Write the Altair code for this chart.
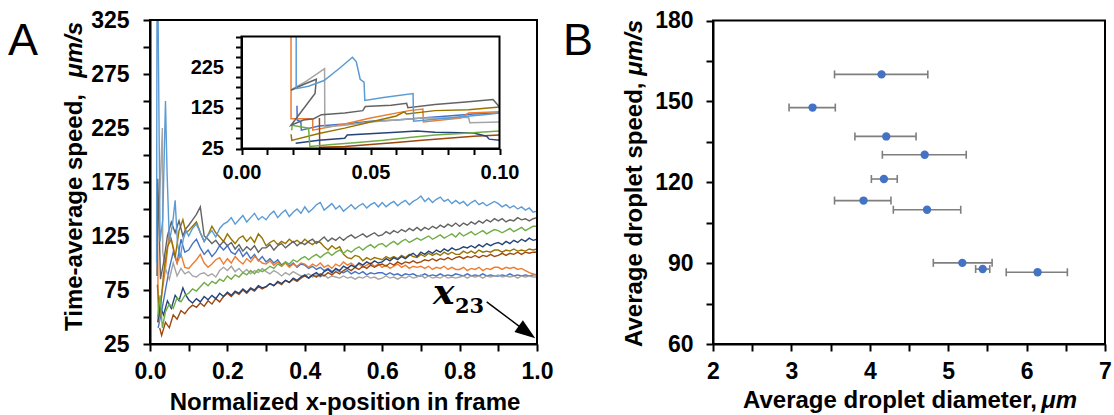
import altair as alt
import pandas as pd

FONT = "Liberation Sans"

# ---------------- Panel A: main plot data ----------------
grid_x = [0.10, 0.11, 0.12, 0.13, 0.14, 0.15, 0.16, 0.17, 0.18, 0.19,
          0.20, 0.21, 0.22, 0.23, 0.24, 0.25, 0.26, 0.27, 0.28, 0.29,
          0.30, 0.31, 0.32, 0.33, 0.34, 0.35, 0.36, 0.37, 0.38, 0.39,
          0.40, 0.41, 0.42, 0.43, 0.44, 0.45, 0.46, 0.47, 0.48, 0.49,
          0.50, 0.51, 0.52, 0.53, 0.54, 0.55, 0.56, 0.57, 0.58, 0.59,
          0.60, 0.61, 0.62, 0.63, 0.64, 0.65, 0.66, 0.67, 0.68, 0.69,
          0.70, 0.71, 0.72, 0.73, 0.74, 0.75, 0.76, 0.77, 0.78, 0.79,
          0.80, 0.81, 0.82, 0.83, 0.84, 0.85, 0.86, 0.87, 0.88, 0.89,
          0.90, 0.91, 0.92, 0.93, 0.94, 0.95, 0.96, 0.97, 0.98, 0.99,
          1.00]

lb_ex = [0.017, 0.018, 0.021, 0.026, 0.033, 0.040, 0.044, 0.050, 0.058, 0.065, 0.071, 0.078, 0.086, 0.093]
lb_ey = [100, 330, 330, 120, 140, 250, 185, 120, 135, 158, 118, 105, 122, 130]
lb_y = [125, 132, 136, 128, 120, 126, 130, 124, 132, 136,
        138, 142, 136, 140, 144, 138, 142, 146, 140, 143,
        140, 145, 148, 142, 146, 149, 143, 147, 150, 146,
        152, 147, 150, 154, 156, 149, 152, 155, 150, 153,
        148, 151, 154, 150, 153, 155, 151, 154, 156, 152,
        156, 152, 155, 157, 153, 156, 158, 154, 157, 159,
        162, 157, 160, 156, 159, 161, 157, 159, 155, 158,
        155, 157, 153, 156, 158, 154, 156, 153, 155, 157,
        155, 152, 154, 151, 153, 150, 152, 149, 151, 147,
        148]

dg_ex = [0.018, 0.020, 0.024, 0.027, 0.035, 0.045, 0.055, 0.065, 0.075, 0.085, 0.093]
dg_ey = [88, 178, 130, 85, 100, 125, 138, 128, 139, 125, 132]
dg_y = [135, 140, 145, 152, 125, 122, 118, 121, 116, 120,
        116, 119, 113, 117, 111, 115, 112, 116, 110, 114,
        114, 117, 112, 116, 118, 114, 117, 120, 116, 119,
        117, 120, 122, 118, 121, 124, 120, 123, 121, 124,
        121, 124, 126, 123, 125, 127, 124, 126, 128, 125,
        126, 129, 127, 130, 128, 131, 129, 132, 130, 133,
        130, 133, 131, 134, 132, 135, 133, 136, 134, 137,
        134, 137, 135, 138, 136, 139, 137, 140, 138, 141,
        139, 141, 138, 140, 139, 142, 140, 141, 139, 141,
        142]

gr_ex = [0.020, 0.026, 0.032, 0.040, 0.050, 0.060, 0.070, 0.080, 0.090]
gr_ey = [50, 70, 40, 55, 62, 58, 68, 64, 70]
gr_y = [72, 76, 74, 78, 82, 79, 83, 81, 85, 83,
        88, 85, 89, 87, 91, 89, 93, 90, 94, 92,
        94, 97, 95, 99, 97, 101, 99, 103, 101, 104,
        106, 103, 106, 108, 105, 108, 110, 107, 110, 112,
        109, 112, 110, 113, 115, 112, 115, 117, 114, 117,
        118, 115, 118, 120, 117, 120, 122, 119, 121, 123,
        121, 123, 125, 122, 124, 126, 123, 125, 127, 124,
        128, 125, 127, 129, 126, 128, 130, 127, 129, 131,
        130, 128, 130, 132, 129, 131, 133, 130, 132, 134,
        134]

db_ex = [0.020, 0.025, 0.035, 0.045, 0.055, 0.065, 0.075, 0.085, 0.093]
db_ey = [45, 60, 52, 65, 58, 70, 65, 77, 70]
db_y = [66, 63, 67, 64, 69, 66, 70, 67, 72, 69,
        73, 70, 74, 72, 76, 73, 77, 75, 79, 77,
        78, 81, 79, 83, 81, 84, 82, 86, 84, 87,
        89, 86, 89, 91, 88, 92, 94, 91, 95, 93,
        97, 95, 98, 96, 100, 98, 101, 99, 102, 100,
        101, 104, 102, 105, 103, 106, 104, 107, 109, 106,
        110, 108, 111, 109, 112, 110, 113, 111, 114, 112,
        113, 115, 114, 116, 114, 117, 115, 118, 116, 118,
        119, 117, 120, 118, 121, 119, 122, 120, 123, 121,
        122]

gd_ex = [0.019, 0.025, 0.035, 0.045, 0.055, 0.065, 0.075, 0.085, 0.093]
gd_ey = [80, 50, 90, 115, 122, 105, 130, 140, 128]
gd_y = [130, 134, 138, 128, 120, 126, 134, 128, 124, 120,
        127, 122, 118, 123, 125, 120, 124, 119, 127, 123,
        116, 119, 121, 117, 120, 118, 122, 119, 121, 118,
        122, 119, 117, 120, 119, 115, 112, 116, 113, 115,
        108, 105, 104, 107, 106, 102, 105, 103, 105, 104,
        103, 106, 104, 106, 104, 107, 105, 108, 106, 105,
        108, 106, 109, 107, 109, 107, 110, 108, 110, 108,
        108, 111, 109, 111, 109, 112, 110, 111, 110, 112,
        112, 110, 112, 111, 113, 111, 112, 111, 113, 112,
        113]

br_ex = [0.025, 0.030, 0.040, 0.050, 0.060, 0.070, 0.080, 0.090]
br_ey = [40, 33, 45, 40, 52, 48, 56, 53]
br_y = [58, 61, 59, 63, 60, 65, 62, 67, 64, 69,
        72, 69, 73, 71, 75, 72, 76, 74, 78, 76,
        78, 81, 79, 82, 80, 84, 82, 85, 83, 86,
        88, 86, 89, 87, 90, 88, 91, 89, 92, 90,
        93, 95, 93, 96, 94, 97, 95, 98, 96, 98,
        99, 97, 100, 98, 101, 99, 101, 100, 102, 100,
        101, 103, 102, 104, 102, 104, 103, 105, 103, 105,
        106, 104, 106, 105, 107, 105, 107, 106, 108, 106,
        107, 109, 107, 109, 108, 110, 108, 110, 109, 110,
        110]

or_ex = [0.018, 0.019, 0.021, 0.023, 0.030, 0.040, 0.050, 0.060, 0.070, 0.080, 0.090]
or_ey = [100, 165, 60, 45, 70, 95, 128, 115, 100, 108, 96]
or_y = [95, 99, 103, 108, 100, 96, 99, 103, 105, 99,
        104, 100, 106, 102, 99, 104, 101, 106, 103, 100,
        99, 102, 98, 101, 97, 100, 96, 99, 97, 100,
        99, 96, 99, 97, 100, 96, 98, 95, 99, 97,
        101, 98, 100, 97, 99, 96, 98, 100, 97, 99,
        96, 98, 95, 97, 99, 96, 98, 95, 97, 96,
        97, 95, 97, 94, 96, 95, 97, 94, 96, 94,
        94, 96, 93, 95, 94, 96, 93, 95, 94, 96,
        96, 94, 96, 95, 96, 94, 95, 93, 91, 90,
        89]

lg_ex = [0.019, 0.026, 0.032, 0.033, 0.040, 0.050, 0.060, 0.070, 0.080, 0.090]
lg_ey = [120, 170, 225, 110, 95, 85, 100, 88, 95, 90]
lg_y = [92, 88, 87, 90, 91, 88, 90, 87, 93, 96,
        93, 97, 92, 95, 91, 94, 90, 93, 91, 95,
        92, 90, 93, 91, 88, 91, 89, 92, 90, 88,
        88, 90, 87, 89, 87, 89, 86, 88, 87, 86,
        88, 86, 87, 85, 87, 86, 88, 86, 87, 85,
        86, 88, 86, 87, 85, 87, 86, 88, 86, 87,
        89, 86, 88, 86, 87, 86, 88, 86, 87, 86,
        87, 88, 86, 88, 87, 88, 86, 88, 87, 88,
        89, 87, 88, 87, 88, 86, 88, 87, 88, 87,
        87]

bl_ex = [0.021, 0.030, 0.040, 0.050, 0.060, 0.070, 0.080, 0.090]
bl_ey = [40, 55, 75, 95, 110, 100, 122, 110]
bl_y = [112, 118, 122, 114, 108, 112, 106, 110, 116, 112,
        116, 110, 108, 113, 106, 110, 104, 108, 102, 106,
        101, 104, 100, 103, 98, 101, 97, 100, 96, 99,
        98, 95, 97, 94, 96, 93, 95, 92, 94, 92,
        91, 93, 90, 92, 90, 92, 89, 91, 90, 91,
        91, 89, 91, 89, 90, 88, 90, 89, 90, 88,
        88, 90, 88, 89, 88, 90, 88, 89, 88, 90,
        89, 88, 90, 88, 89, 88, 90, 88, 89, 88,
        88, 89, 88, 90, 88, 89, 88, 89, 88, 89,
        89]

# ---------------- Panel A: inset data (ordered sequences) ----------------
lb_ix = [0.0212, 0.0212, 0.026, 0.032, 0.038, 0.043, 0.0445, 0.046, 0.0475, 0.0478, 0.055, 0.0665, 0.0667, 0.075, 0.085, 0.094, 0.100]
lb_iy = [300, 172, 178, 192, 222, 249, 238, 195, 188, 143, 150, 160, 92, 97, 103, 108, 112]
dg_ix = [0.0192, 0.024, 0.029, 0.0285, 0.0192, 0.024, 0.028, 0.031, 0.040, 0.047, 0.048, 0.058, 0.064, 0.0645, 0.075, 0.088, 0.0975, 0.100]
dg_iy = [168, 182, 195, 160, 82, 95, 98, 108, 112, 118, 128, 131, 136, 125, 133, 140, 145, 127]
gd_ix = [0.0192, 0.0195, 0.030, 0.040, 0.050, 0.060, 0.063, 0.064, 0.075, 0.088, 0.100]
gd_iy = [60, 45, 62, 75, 90, 105, 115, 110, 118, 120, 127]
or_ix = [0.0192, 0.0192, 0.0276, 0.0276, 0.040, 0.050, 0.065, 0.0703, 0.0705, 0.085, 0.088, 0.100]
or_iy = [300, 98, 98, 70, 85, 100, 118, 122, 90, 100, 112, 115]
lg_ix = [0.0190, 0.025, 0.0322, 0.0323, 0.040, 0.050, 0.060, 0.070, 0.080, 0.088, 0.0885, 0.100]
lg_iy = [168, 190, 221, 78, 82, 90, 95, 100, 100, 102, 88, 90]
gr_ix = [0.0195, 0.0196, 0.026, 0.0265, 0.035, 0.045, 0.055, 0.065, 0.075, 0.085, 0.100]
gr_iy = [70, 82, 75, 30, 35, 40, 45, 52, 58, 62, 68]
db_ix = [0.021, 0.030, 0.040, 0.041, 0.060, 0.068, 0.075, 0.090, 0.095, 0.096, 0.100]
db_iy = [38, 45, 50, 58, 65, 68, 65, 63, 55, 48, 45]
br_ix = [0.0302, 0.0303, 0.040, 0.050, 0.060, 0.070, 0.080, 0.090, 0.100]
br_iy = [100, 28, 30, 35, 40, 45, 50, 55, 58]
bl_ix = [0.0215, 0.0216, 0.023, 0.0232, 0.030, 0.040, 0.050, 0.060, 0.070, 0.080, 0.090, 0.100]
bl_iy = [130, 95, 90, 70, 80, 85, 92, 95, 100, 105, 110, 112]

series_names = ["bl", "or", "lg", "gd", "br", "db", "gr", "dg", "lb"]
series_colors = ["#4472C4", "#ED7D31", "#A5A5A5", "#997300", "#9E480E", "#264478", "#70AD47", "#636363", "#5B9BD5"]

main_parts = {
    "lb": (lb_ex, lb_ey, lb_y), "dg": (dg_ex, dg_ey, dg_y), "gr": (gr_ex, gr_ey, gr_y),
    "db": (db_ex, db_ey, db_y), "gd": (gd_ex, gd_ey, gd_y), "br": (br_ex, br_ey, br_y),
    "or": (or_ex, or_ey, or_y), "lg": (lg_ex, lg_ey, lg_y), "bl": (bl_ex, bl_ey, bl_y),
}
inset_parts = {
    "lb": (lb_ix, lb_iy), "dg": (dg_ix, dg_iy), "gr": (gr_ix, gr_iy), "db": (db_ix, db_iy),
    "gd": (gd_ix, gd_iy), "br": (br_ix, br_iy), "or": (or_ix, or_iy), "lg": (lg_ix, lg_iy),
    "bl": (bl_ix, bl_iy),
}

# ---------------- Panel B data ----------------
B_diam = [4.15, 3.27, 4.21, 4.70, 4.18, 3.92, 4.73, 5.18, 5.44, 6.14]
B_speed = [160.0, 147.7, 137.0, 130.2, 121.2, 113.2, 109.8, 90.1, 87.8, 86.6]
B_lo = [3.55, 2.97, 3.81, 4.16, 4.02, 3.55, 4.30, 4.81, 5.35, 5.74]
B_hi = [4.74, 3.56, 4.59, 5.23, 4.35, 4.27, 5.16, 5.56, 5.53, 6.52]

# axis tick values and annotation anchors
A_xticks = [0.0, 0.1, 0.2, 0.3, 0.4, 0.5, 0.6, 0.7, 0.8, 0.9, 1.0]
A_yticks = [25, 50, 75, 100, 125, 150, 175, 200, 225, 250, 275, 300, 325]
I_xticks = [0.0, 0.01, 0.02, 0.03, 0.04, 0.05, 0.06, 0.07, 0.08, 0.09, 0.1]
I_yticks = [25, 50, 75, 100, 125, 150, 175, 200, 225, 250, 275, 300]
B_xticks = [2, 2.5, 3, 3.5, 4, 4.5, 5, 5.5, 6, 6.5, 7]
B_yticks = [60, 75, 90, 105, 120, 135, 150, 165, 180]
arrow_x = [0.87, 0.974]
arrow_y = [64, 36]

# ---------------- build tables ----------------
rows = []
for name, col in zip(series_names, series_colors):
    ex, ey, gy = main_parts[name]
    for i, (x, y) in enumerate(zip(ex + grid_x, ey + gy)):
        rows.append({"s": name, "c": col, "x": x, "y": y, "i": i})
main_df = pd.DataFrame(rows)

rows = []
for name, col in zip(series_names, series_colors):
    ix, iy = inset_parts[name]
    for i, (x, y) in enumerate(zip(ix, iy)):
        rows.append({"s": name, "c": col, "x": x, "y": y, "i": i})
inset_df = pd.DataFrame(rows)

b_df = pd.DataFrame({"x": B_diam, "y": B_speed, "lo": B_lo, "hi": B_hi})

# ---------------- scales ----------------
def sc(domain, rng, clamp=False):
    return alt.Scale(domain=domain, range=rng, nice=False, zero=False, clamp=clamp)

AX = lambda: sc([0, 1], [150, 537])
AY = lambda: sc([25, 325], [344, 20], clamp=True)
IX = lambda: sc([0, 0.1], [241.5, 499.5], clamp=True)
IY = lambda: sc([25, 300], [148.5, 36.5], clamp=True)
BX = lambda: sc([2, 7], [713, 1105])
BY = lambda: sc([60, 180], [344, 20.5])

H = 415


def axis(orient, offset, values, expr, size=23, pad=9, tick=7):
    return alt.Axis(orient=orient, offset=offset, values=values, labelExpr=expr, title=None,
                    grid=False, domainColor="black", domainWidth=2, tickColor="black",
                    tickWidth=2, tickSize=tick, labelFont=FONT, labelFontSize=size,
                    labelFontWeight="bold", labelColor="black", labelPadding=pad,
                    labelFlush=False, labelOverlap=False, zindex=1)


# ---------------- layers ----------------
main_lines = alt.Chart(main_df).mark_line(strokeWidth=1.4).encode(
    x=alt.X("x:Q", scale=AX(), axis=axis("bottom", -(H - 344), A_xticks,
            "round(datum.value*10) % 2 == 0 ? format(datum.value, '.1f') : ''")),
    y=alt.Y("y:Q", scale=AY(), axis=axis("left", -150, A_yticks,
            "datum.value % 50 == 25 ? format(datum.value, 'd') : ''", pad=14)),
    color=alt.Color("c:N", scale=None),
    detail="s:N",
    order="i:Q",
)

box_df = lambda x0, x1, y0, y1: pd.DataFrame({"x0": [x0], "x1": [x1], "y0": [y0], "y1": [y1]})

main_box = alt.Chart(box_df(0, 1, 25, 325)).mark_rect(fillOpacity=0, stroke="black", strokeWidth=2).encode(
    x=alt.X("x0:Q", scale=AX(), axis=None), x2="x1:Q",
    y=alt.Y("y0:Q", scale=AY(), axis=None), y2="y1:Q")

arrow_df = pd.DataFrame({"x0": [arrow_x[0]], "x1": [arrow_x[1]], "y0": [arrow_y[0]], "y1": [arrow_y[1]]})
arrow_line = alt.Chart(arrow_df).mark_rule(color="black", strokeWidth=1.5).encode(
    x=alt.X("x0:Q", scale=AX(), axis=None), x2="x1:Q",
    y=alt.Y("y0:Q", scale=AY(), axis=None), y2="y1:Q")
arrow_head = alt.Chart(arrow_df).mark_point(
    shape="M1,0L-1,-0.7L-1,0.7Z", size=420, filled=True, color="black", opacity=1, angle=36
).encode(x=alt.X("x1:Q", scale=AX(), axis=None), y=alt.Y("y1:Q", scale=AY(), axis=None))

inset_bg = alt.Chart(box_df(0, 0.1, 25, 300)).mark_rect(fill="white", strokeWidth=0).encode(
    x=alt.X("x0:Q", scale=IX(), axis=axis("bottom", -(H - 148.5), I_xticks,
            "round(datum.value*100) % 5 == 0 ? format(datum.value, '.2f') : ''", size=20, pad=8, tick=6)),
    x2="x1:Q",
    y=alt.Y("y0:Q", scale=IY(), axis=axis("left", -241.5, I_yticks,
            "(datum.value - 25) % 100 == 0 ? format(datum.value, 'd') : ''", size=20, pad=12, tick=6)),
    y2="y1:Q")

inset_lines = alt.Chart(inset_df).mark_line(strokeWidth=1.5).encode(
    x=alt.X("x:Q", scale=IX(), axis=None),
    y=alt.Y("y:Q", scale=IY(), axis=None),
    color=alt.Color("c:N", scale=None),
    detail="s:N",
    order="i:Q",
)

inset_box = alt.Chart(box_df(0, 0.1, 25, 300)).mark_rect(fillOpacity=0, stroke="black", strokeWidth=2).encode(
    x=alt.X("x0:Q", scale=IX(), axis=None), x2="x1:Q",
    y=alt.Y("y0:Q", scale=IY(), axis=None), y2="y1:Q")

b_box = alt.Chart(box_df(2, 7, 60, 180)).mark_rect(fillOpacity=0, stroke="black", strokeWidth=2).encode(
    x=alt.X("x0:Q", scale=BX(), axis=axis("bottom", -(H - 344), B_xticks,
            "datum.value % 1 == 0 ? format(datum.value, 'd') : ''")),
    x2="x1:Q",
    y=alt.Y("y0:Q", scale=BY(), axis=axis("left", -713, B_yticks,
            "datum.value % 30 == 0 ? format(datum.value, 'd') : ''", pad=13)),
    y2="y1:Q")

err = alt.Chart(b_df).mark_rule(color="#7f7f7f", strokeWidth=1.6).encode(
    x=alt.X("lo:Q", scale=BX(), axis=None), x2="hi:Q",
    y=alt.Y("y:Q", scale=BY(), axis=None))
cap_lo = alt.Chart(b_df).mark_tick(orient="vertical", size=8, thickness=1.6, color="#7f7f7f", opacity=1).encode(
    x=alt.X("lo:Q", scale=BX(), axis=None), y=alt.Y("y:Q", scale=BY(), axis=None))
cap_hi = alt.Chart(b_df).mark_tick(orient="vertical", size=8, thickness=1.6, color="#7f7f7f", opacity=1).encode(
    x=alt.X("hi:Q", scale=BX(), axis=None), y=alt.Y("y:Q", scale=BY(), axis=None))
pts = alt.Chart(b_df).mark_circle(size=70, color="#4472C4", opacity=1).encode(
    x=alt.X("x:Q", scale=BX(), axis=None), y=alt.Y("y:Q", scale=BY(), axis=None))


def text(txt, x, y, size=24, angle=0, align="left", weight="bold", style="normal",
         font=FONT, baseline="alphabetic"):
    return alt.Chart(pd.DataFrame({"t": [txt]})).mark_text(
        fontSize=size, angle=angle, align=align, fontWeight=weight, fontStyle=style,
        font=font, baseline=baseline, color="black"
    ).encode(text="t:N", x=alt.value(x), y=alt.value(y))


texts = [
    text("A", 8, 55, size=45, weight="normal"),
    text("B", 563, 55, size=45, weight="normal"),
    text("Time-average speed,", 75, 331, angle=270, align="left", baseline="middle"),
    text("\u03bcm/s", 75, 22, angle=270, align="right", baseline="middle", style="italic"),
    text("Average droplet speed,", 635, 347, angle=270, align="left", baseline="middle"),
    text("\u03bcm/s", 635, 20, angle=270, align="right", baseline="middle", style="italic"),
    text("Normalized x-position in frame", 345, 410, align="center"),
    text("Average droplet diameter,", 743, 408, align="left"),
    text("\u03bcm", 1077, 408, align="right", style="italic"),
    text("x", 433, 304, size=36, font="DejaVu Serif", style="italic"),
    text("23", 455, 313, size=21, font="DejaVu Serif"),
]

chart = alt.layer(
    main_lines, main_box, arrow_line, arrow_head,
    inset_bg, inset_lines, inset_box,
    err, cap_lo, cap_hi, pts, b_box,
    *texts
).resolve_scale(x="independent", y="independent").properties(
    width=1114, height=415,
    autosize=alt.AutoSizeParams(type="none"),
    padding={"left": 0, "top": 0, "right": 0, "bottom": 0},
    background="white",
).configure_view(strokeWidth=0)

chart.save("out.html", embed_options={"renderer": "svg", "actions": False})
